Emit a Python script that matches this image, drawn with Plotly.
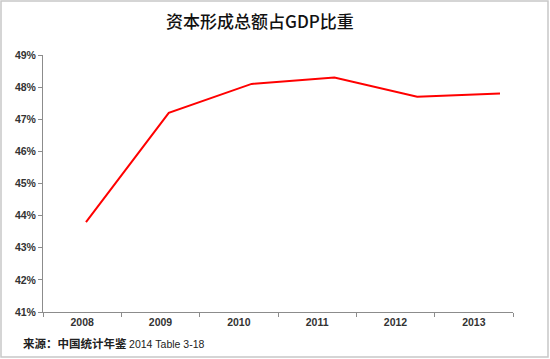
import plotly.graph_objects as go

years = [2008, 2009, 2010, 2011, 2012, 2013]
year_labels = ["2008", "2009", "2010", "2011", "2012", "2013"]
share = [43.8, 47.2, 48.1, 48.3, 47.7, 47.8]
y_ticks = [41, 42, 43, 44, 45, 46, 47, 48, 49]
y_tick_labels = [f"{v}%" for v in y_ticks]

title_text = "资本形成总额占GDP比重"
source_main = "来源：中国统计年鉴"
source_detail = "2014 Table 3-18"

W, H = 550, 359
L, R, T, B = 43, 37, 55, 47
pw, ph = W - L - R, H - T - B

def px_x(p):
    return (p - L) / pw

def px_y(p):
    return (H - B - p) / ph

fig = go.Figure()

# dummy trace for the category axis
fig.add_trace(go.Scatter(x=year_labels, y=[None] * len(years), mode="none",
                         showlegend=False, hoverinfo="skip", xaxis="x", yaxis="y"))

fig.add_trace(go.Scatter(x=years, y=share, mode="lines",
                         line=dict(color="#FF0000", width=2),
                         showlegend=False, xaxis="x2", yaxis="y"))

axis_font = dict(family="Liberation Sans", size=10.5, color="#333333")

fig.update_layout(
    width=W, height=H,
    margin=dict(l=L, r=R, t=T, b=B, autoexpand=False),
    paper_bgcolor="white", plot_bgcolor="white",
    xaxis=dict(type="category", categoryarray=year_labels, range=[-0.5, 5.5],
               tickson="boundaries", ticks="outside", ticklen=4, tickcolor="#8c8c8c",
               showline=True, linecolor="#8c8c8c", linewidth=1, showgrid=False,
               tickfont=axis_font, tickprefix="<b>", ticksuffix="</b>",
               automargin=False),
    xaxis2=dict(overlaying="x", visible=False, range=[2007.481, 2013.157],
                showgrid=False),
    yaxis=dict(range=[41, 49], tickvals=y_ticks, ticktext=[f"<b>{t}</b>" for t in y_tick_labels],
               ticks="outside", ticklen=4, tickcolor="#8c8c8c",
               showline=True, linecolor="#8c8c8c", linewidth=1, showgrid=False,
               zeroline=False, tickfont=axis_font, automargin=False),
    font=dict(family="Liberation Sans"),
)

fig.add_annotation(text=title_text, xref="paper", yref="paper",
                   x=px_x(260), y=px_y(20), xanchor="center", yanchor="middle",
                   showarrow=False,
                   font=dict(family="Noto Sans CJK SC", size=17, color="#111111", weight=500))

fig.add_annotation(text=f"<b>{source_main}</b> <span style='font-size:10.5px;font-family:Liberation Sans'>{source_detail}</span>",
                   xref="paper", yref="paper",
                   x=px_x(21), y=px_y(343), xanchor="left", yanchor="middle",
                   showarrow=False,
                   font=dict(family="Noto Sans CJK SC", size=11.5, color="#222222"))

fig.add_shape(type="rect", xref="paper", yref="paper",
              x0=px_x(1), x1=px_x(548), y0=px_y(357), y1=px_y(1),
              line=dict(color="#c8c8c8", width=1.5), layer="below")

fig.write_html("out.html", config={"displayModeBar": False},
               post_script="document.body.style.margin='0';document.body.style.overflow='hidden';")
